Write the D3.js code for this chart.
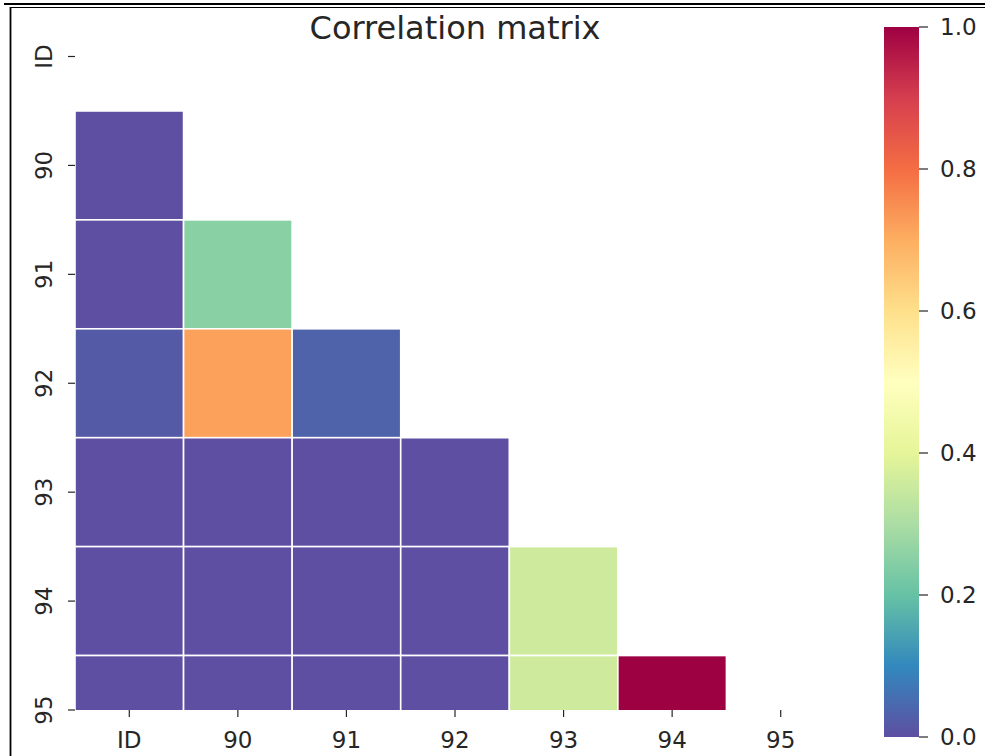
<!DOCTYPE html>
<html>
<head>
<meta charset="utf-8">
<script src="https://cdn.jsdelivr.net/npm/d3@7"></script>
<style>
  html, body { margin: 0; padding: 0; background: #fff; }
  svg { display: block; }
  text { font-family: "DejaVu Sans", sans-serif; fill: #262626; }
</style>
</head>
<body>
<svg id="chart" width="985" height="756"></svg>
<script>
// Variable labels (rows and columns share the same order)
const labels = ["ID", "90", "91", "92", "93", "94", "95"];

// Lower-triangle correlation values, one array per row (row i has i entries)
const row90 = [0.00];
const row91 = [0.00, 0.25];
const row92 = [0.02, 0.72, 0.035];
const row93 = [0.00, 0.00, 0.00, 0.00];
const row94 = [0.00, 0.00, 0.00, 0.00, 0.36];
const row95 = [0.00, 0.00, 0.00, 0.00, 0.36, 1.00];
const lowerRows = [[], row90, row91, row92, row93, row94, row95];

// Colour bar ticks
const cbarTicks = [0.0, 0.2, 0.4, 0.6, 0.8, 1.0];

const title = "Correlation matrix";

// Flatten into cells
const cells = [];
lowerRows.forEach((vals, r) => {
  vals.forEach((v, c) => cells.push({ row: labels[r], col: labels[c], value: v }));
});

const svg = d3.select("#chart");

// Spectral, reversed, linearly interpolated between the 11 ColorBrewer stops
const spectral = d3.schemeSpectral[11].slice().reverse();
const stopDomain = d3.range(11).map(i => i / 10);
const color = d3.scaleLinear().domain(stopDomain).range(spectral)
  .interpolate(d3.interpolateRgb).clamp(true);

// Heatmap geometry
const heatLeft = 75, heatRight = 835;
const axTop = 56.5, axBottom = 710;
const rowStep = (axBottom - axTop) / 6;

const x = d3.scaleBand().domain(labels).range([heatLeft, heatRight]).padding(0);
const y = d3.scaleBand().domain(labels)
  .range([axTop - rowStep / 2, axBottom + rowStep / 2]).padding(0);

svg.append("defs").append("clipPath").attr("id", "axclip")
  .append("rect")
  .attr("x", heatLeft).attr("y", axTop)
  .attr("width", heatRight - heatLeft).attr("height", axBottom - axTop);

svg.append("g").attr("clip-path", "url(#axclip)")
  .selectAll("rect").data(cells).join("rect")
  .attr("x", d => x(d.col))
  .attr("y", d => y(d.row))
  .attr("width", x.bandwidth())
  .attr("height", y.bandwidth())
  .attr("fill", d => color(d.value))
  .attr("stroke", "#fff")
  .attr("stroke-width", 1.6);

// X axis (ticks at column centres, no spine)
const xAxis = svg.append("g").attr("transform", `translate(0,${axBottom})`);
labels.forEach(l => {
  const cx = x(l) + x.bandwidth() / 2;
  xAxis.append("line").attr("x1", cx).attr("x2", cx).attr("y1", 0).attr("y2", 7)
    .attr("stroke", "#262626").attr("stroke-width", 1.2);
  xAxis.append("text").attr("x", cx).attr("y", 38)
    .attr("text-anchor", "middle").attr("font-size", 23).text(l);
});

// Y axis (rotated labels)
const yAxis = svg.append("g");
labels.forEach(l => {
  const cy = y(l) + y.bandwidth() / 2;
  yAxis.append("line").attr("x1", heatLeft - 7).attr("x2", heatLeft).attr("y1", cy).attr("y2", cy)
    .attr("stroke", "#262626").attr("stroke-width", 1.2);
  yAxis.append("text")
    .attr("transform", `translate(52,${cy}) rotate(-90)`)
    .attr("text-anchor", "middle").attr("font-size", 23).text(l);
});

// Title
svg.append("text").attr("x", 455).attr("y", 39)
  .attr("text-anchor", "middle").attr("font-size", 32)
  .text(title);

// Colour bar
const cbLeft = 884, cbRight = 919, cbTop = 27, cbBottom = 737;
const grad = svg.select("defs").append("linearGradient").attr("id", "cbgrad")
  .attr("x1", 0).attr("y1", 1).attr("x2", 0).attr("y2", 0);
grad.selectAll("stop").data(stopDomain).join("stop")
  .attr("offset", d => d)
  .attr("stop-color", d => color(d));
svg.append("rect").attr("x", cbLeft).attr("y", cbTop)
  .attr("width", cbRight - cbLeft).attr("height", cbBottom - cbTop)
  .attr("fill", "url(#cbgrad)");

const cy = d3.scaleLinear().domain([0, 1]).range([cbBottom, cbTop]);
const cbAxis = svg.append("g").attr("transform", `translate(${cbRight},0)`);
cbarTicks.forEach(t => {
  cbAxis.append("line").attr("x1", 0).attr("x2", 9).attr("y1", cy(t)).attr("y2", cy(t))
    .attr("stroke", "#262626").attr("stroke-width", 1.2);
  cbAxis.append("text").attr("x", 21).attr("y", cy(t)).attr("dy", "0.36em")
    .attr("font-size", 23).text(d3.format(".1f")(t));
});

// Window frame lines
svg.append("line").attr("x1", 4).attr("x2", 985).attr("y1", 4).attr("y2", 4)
  .attr("stroke", "#000").attr("stroke-width", 2.2);
svg.append("line").attr("x1", 10).attr("x2", 985).attr("y1", 7.5).attr("y2", 7.5)
  .attr("stroke", "#000").attr("stroke-width", 1.2);
svg.append("line").attr("x1", 10.5).attr("x2", 10.5).attr("y1", 7).attr("y2", 756)
  .attr("stroke", "#000").attr("stroke-width", 1.8);
</script>
</body>
</html>
